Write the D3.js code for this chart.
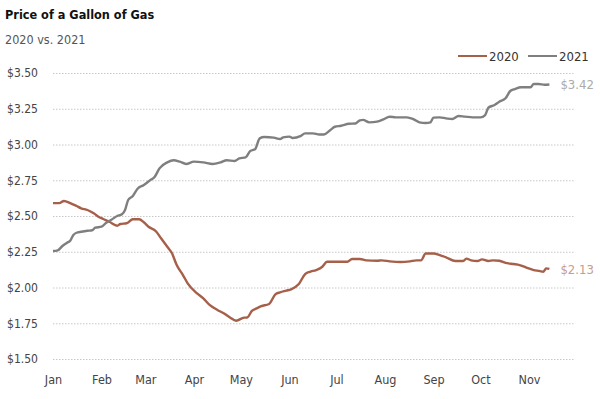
<!DOCTYPE html>
<html>
<head>
<meta charset="utf-8">
<script src="https://cdn.jsdelivr.net/npm/d3@7"></script>
<style>
    body { margin: 0; background: #fff; }
    svg text { font-family: "Liberation Sans Narrow", "DejaVu Sans Condensed", "Roboto", sans-serif; font-stretch: condensed; }
</style>
</head>
<body>
<svg id="chart" width="600" height="399"></svg>
<script>
// month-day of each reading, both years drawn on the same calendar
const dates2020 = ["01-01","01-05","01-08","01-12","01-16","01-19","01-23","01-27","01-30","02-02",
    "02-06","02-11","02-13","02-17","02-21","02-25","02-28","03-03","03-08","03-11",
    "03-15","03-18","03-21","03-25","03-28","04-03","04-07","04-11","04-16","04-20",
    "04-24","04-28","05-03","05-05","05-08","05-11","05-14","05-19","05-23","05-26",
    "05-30","06-02","06-07","06-11","06-14","06-18","06-22","06-25","06-30","07-08",
    "07-11","07-16","07-20","07-27","07-30","08-04","08-11","08-17","08-21","08-24",
    "08-27","09-01","09-05","09-09","09-15","09-20","09-22","09-25","09-29","10-02",
    "10-06","10-09","10-13","10-18","10-22","10-26","10-30","11-04","11-08","11-10",
    "11-12","11-14"];
const price2020 = [2.59,2.59,2.605,2.59,2.57,2.554,2.542,2.519,2.495,2.479,
    2.46,2.432,2.444,2.449,2.477,2.477,2.456,2.425,2.39,2.344,
    2.285,2.239,2.157,2.087,2.029,1.959,1.924,1.878,1.843,1.82,
    1.79,1.768,1.789,1.79,1.836,1.854,1.87,1.885,1.952,1.966,
    1.978,1.987,2.024,2.094,2.11,2.122,2.145,2.18,2.18,2.18,
    2.199,2.199,2.19,2.187,2.19,2.183,2.178,2.183,2.19,2.19,
    2.238,2.238,2.227,2.211,2.185,2.185,2.202,2.19,2.185,2.197,
    2.185,2.19,2.187,2.17,2.164,2.157,2.14,2.122,2.115,2.11,
    2.134,2.13];

const dates2021 = ["01-01","01-04","01-07","01-10","01-12","01-14","01-16","01-19","01-23","01-26",
    "01-28","02-01","02-04","02-07","02-11","02-14","02-16","02-18","02-21","02-24",
    "02-28","03-04","03-07","03-10","03-15","03-19","03-23","03-27","04-01","04-07",
    "04-13","04-18","04-22","04-27","04-30","05-04","05-07","05-10","05-13","05-16",
    "05-22","05-26","05-28","06-01","06-03","06-08","06-11","06-16","06-20","06-23",
    "06-27","06-30","07-04","07-09","07-13","07-16","07-18","07-22","07-27","07-31",
    "08-04","08-08","08-15","08-19","08-23","08-27","08-30","09-01","09-05","09-09",
    "09-13","09-17","09-21","09-26","10-01","10-04","10-06","10-10","10-13","10-17",
    "10-20","10-23","10-27","11-02","11-04","11-07","11-11","11-14"];
const price2021 = [2.255,2.26,2.29,2.313,2.327,2.367,2.383,2.39,2.397,2.40,
    2.418,2.425,2.453,2.472,2.50,2.512,2.542,2.612,2.64,2.69,
    2.717,2.75,2.775,2.833,2.875,2.89,2.88,2.864,2.88,2.875,
    2.864,2.875,2.89,2.885,2.903,2.91,2.955,2.966,3.043,3.052,
    3.048,3.038,3.05,3.055,3.045,3.058,3.078,3.078,3.07,3.07,
    3.10,3.124,3.131,3.145,3.147,3.169,3.172,3.155,3.16,3.176,
    3.194,3.19,3.19,3.178,3.155,3.15,3.155,3.188,3.19,3.183,
    3.178,3.199,3.195,3.19,3.19,3.206,3.257,3.276,3.299,3.323,
    3.374,3.388,3.40,3.40,3.423,3.423,3.418,3.42];

const seriesNames = ["2020", "2021"];
const seriesColors = ["#a65f48", "#7f7f7f"];
const endLabelColors = ["#c79d8e", "#ababab"];
const yTicks = [1.5, 1.75, 2.0, 2.25, 2.5, 2.75, 3.0, 3.25, 3.5];
const monthTicks = ["01-01","02-01","03-01","04-01","05-01","06-01","07-01","08-01","09-01","10-01","11-01"];

const parseMD = d3.timeParse("%m-%d");

function makeChart() {
    let svg = d3.select("#chart");
    let left = 53, right = 576, top = 73, bottom = 359;

    let series = [
        { name: seriesNames[0], color: seriesColors[0], label: endLabelColors[0],
          values: dates2020.map((d, i) => ({ date: parseMD(d), price: price2020[i] })) },
        { name: seriesNames[1], color: seriesColors[1], label: endLabelColors[1],
          values: dates2021.map((d, i) => ({ date: parseMD(d), price: price2021[i] })) },
    ];

    let x_scale = d3.scaleTime()
        .domain([parseMD("01-01"), parseMD("12-01")])
        .range([left, right]);

    let y_scale = d3.scaleLinear()
        .domain([1.5, 3.5])
        .range([bottom, top]);

    // title
    svg.append("text")
        .attr("x", 5)
        .attr("y", 19)
        .attr("font-size", "12.6px")
        .attr("font-weight", "bold")
        .attr("fill", "#111")
        .text("Price of a Gallon of Gas");

    svg.append("text")
        .attr("x", 5)
        .attr("y", 44)
        .attr("font-size", "12.5px")
        .attr("fill", "#555")
        .text("2020 vs. 2021");

    // y grid + labels
    let yAxis = svg.append("g")
        .attr("class", "axis axis-y")
        .attr("transform", `translate(${left},0)`)
        .call(d3.axisLeft(y_scale)
            .tickValues(yTicks)
            .tickSize(-(right - left))
            .tickPadding(14)
            .tickFormat(d => "$" + d3.format(".2f")(d)));
    yAxis.select(".domain").remove();
    yAxis.selectAll(".tick line")
        .attr("x2", right - left - 1)
        .attr("stroke", "#c8c8c8")
        .attr("stroke-dasharray", "1.5,1.5");
    yAxis.selectAll(".tick text")
        .attr("x", -15)
        .style("font-size", "12px")
        .style("fill", "#444");

    // x labels
    let xAxis = svg.append("g")
        .attr("class", "axis axis-x")
        .attr("transform", `translate(0,${bottom + 13})`)
        .call(d3.axisBottom(x_scale)
            .tickValues(monthTicks.map(parseMD))
            .tickSize(0)
            .tickFormat(d3.timeFormat("%b")));
    xAxis.select(".domain").remove();
    xAxis.selectAll(".tick text")
        .style("font-size", "12.5px")
        .style("fill", "#444");

    let line = d3.line()
        .x(d => x_scale(d.date))
        .y(d => y_scale(d.price))
        .curve(d3.curveMonotoneX);

    series.forEach(s => {
        svg.append("path")
            .datum(s.values)
            .attr("fill", "none")
            .attr("stroke", s.color)
            .attr("stroke-width", 2.4)
            .attr("stroke-linejoin", "round")
            .attr("d", line);

        let last = s.values[s.values.length - 1];
        svg.append("text")
            .attr("x", x_scale(last.date) + 11)
            .attr("y", y_scale(last.price) + 5)
            .attr("font-size", "13px")
            .attr("fill", s.label)
            .text("$" + d3.format(".2f")(last.price));
    });

    // legend
    let legend = svg.append("g").attr("transform", "translate(458,56)");
    series.forEach((s, i) => {
        let lg = legend.append("g").attr("transform", `translate(${i * 70},0)`);
        lg.append("line")
            .attr("x1", 0).attr("x2", 29)
            .attr("stroke", s.color)
            .attr("stroke-width", 2);
        lg.append("text")
            .attr("x", 31)
            .attr("y", 5)
            .attr("font-size", "13px")
            .attr("fill", "#333")
            .text(s.name);
    });
}

makeChart();
</script>
</body>
</html>
